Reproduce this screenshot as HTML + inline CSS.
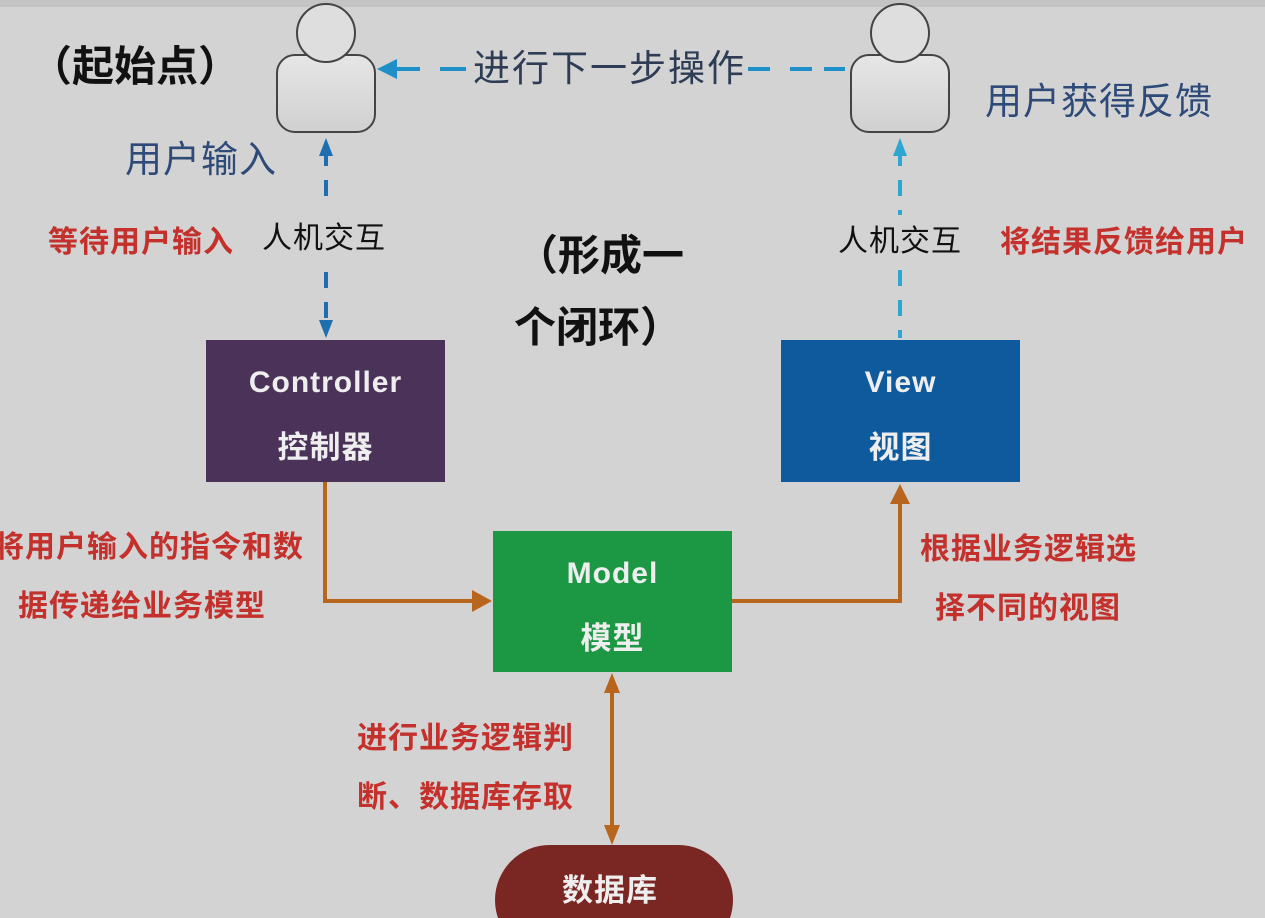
<!DOCTYPE html>
<html><head><meta charset="utf-8"><style>
html,body{margin:0;padding:0}
body{width:1265px;height:918px;background:#d3d3d3;position:relative;overflow:hidden;font-family:"Liberation Sans","Noto Sans CJK SC",sans-serif}
.t{position:absolute;white-space:nowrap;line-height:1}
.red{color:#c4302b;font-weight:bold;font-size:30px;letter-spacing:1px}
.blue{font-size:37px;letter-spacing:1px;color:#2d4a78}
.hj{font-size:30px;letter-spacing:1px;color:#111}
.box{position:absolute;color:#eee;text-align:center;font-weight:bold}
.box .e{font-size:30px;letter-spacing:1px}
.box .c{font-size:31px;letter-spacing:1px}
</style></head><body>
<div style="position:absolute;left:0;top:0;width:1265px;height:7px;background:#c4c4c4"></div>
<svg width="1265" height="918" style="position:absolute;left:0;top:0">
<defs>
<linearGradient id="g" x1="0" y1="0" x2="0" y2="1"><stop offset="0" stop-color="#e6e6e6"/><stop offset="1" stop-color="#d0d0d0"/></linearGradient>
</defs>
<rect x="277" y="55" width="98" height="77" rx="18" fill="url(#g)" stroke="#444" stroke-width="2"/>
<circle cx="326" cy="33" r="29" fill="#dedede" stroke="#444" stroke-width="2"/>
<rect x="851" y="55" width="98" height="77" rx="18" fill="url(#g)" stroke="#444" stroke-width="2"/>
<circle cx="900" cy="33" r="29" fill="#dedede" stroke="#444" stroke-width="2"/>
<line x1="395" y1="69" x2="420" y2="69" stroke="#1f8fc8" stroke-width="4"/>
<line x1="440" y1="69" x2="466" y2="69" stroke="#1f8fc8" stroke-width="4"/>
<line x1="748" y1="69" x2="770" y2="69" stroke="#1f8fc8" stroke-width="4"/>
<line x1="790" y1="69" x2="845" y2="69" stroke="#1f8fc8" stroke-width="4" stroke-dasharray="22,12"/>
<polygon points="377,69 397,59 397,79" fill="#1f8fc8"/>
<line x1="326" y1="150" x2="326" y2="205" stroke="#1f6fb0" stroke-width="4" stroke-dasharray="16,14"/>
<line x1="326" y1="272" x2="326" y2="325" stroke="#1f6fb0" stroke-width="4" stroke-dasharray="16,14"/>
<polygon points="326,138 319,156 333,156" fill="#1f6fb0"/>
<polygon points="326,338 319,320 333,320" fill="#1f6fb0"/>
<line x1="900" y1="150" x2="900" y2="215" stroke="#2ea7d0" stroke-width="4" stroke-dasharray="16,14"/>
<line x1="900" y1="270" x2="900" y2="338" stroke="#2ea7d0" stroke-width="4" stroke-dasharray="16,14"/>
<polygon points="900,138 893,156 907,156" fill="#2ea7d0"/>
<polyline points="325,482 325,601 475,601" fill="none" stroke="#b8661e" stroke-width="4"/>
<polygon points="492,601 472,590 472,612" fill="#b8661e"/>
<polyline points="732,601 900,601 900,500" fill="none" stroke="#b8661e" stroke-width="4"/>
<polygon points="900,484 890,504 910,504" fill="#b8661e"/>
<line x1="612" y1="690" x2="612" y2="828" stroke="#b8661e" stroke-width="4"/>
<polygon points="612,673 604,693 620,693" fill="#b8661e"/>
<polygon points="612,845 604,825 620,825" fill="#b8661e"/>
<rect x="495" y="845" width="238" height="110" rx="55" fill="#7a2622"/>
</svg>
<div class="t" style="left:30px;top:46px;font-size:42px;font-weight:bold;color:#111">（起始点）</div>
<div class="t" style="left:473px;top:50px;font-size:37px;letter-spacing:2px;color:#2e3d55">进行下一步操作</div>
<div class="t blue" style="left:125px;top:141px">用户输入</div>
<div class="t blue" style="left:985px;top:83px">用户获得反馈</div>
<div class="t hj" style="left:262px;top:224px">人机交互</div>
<div class="t red" style="left:48px;top:228px">等待用户输入</div>
<div class="t hj" style="left:838px;top:227px">人机交互</div>
<div class="t red" style="left:1000px;top:228px">将结果反馈给用户</div>
<div class="t" style="left:516px;top:235px;font-size:42px;font-weight:bold;color:#111">（形成一</div>
<div class="t" style="left:514px;top:307px;font-size:42px;font-weight:bold;color:#111">个闭环）</div>
<div class="box" style="left:206px;top:340px;width:239px;height:142px;background:#4a3259"><div class="e" style="margin-top:26px">Controller</div><div class="c" style="margin-top:22px">控制器</div></div>
<div class="box" style="left:781px;top:340px;width:239px;height:142px;background:#0f5a9c"><div class="e" style="margin-top:26px">View</div><div class="c" style="margin-top:22px">视图</div></div>
<div class="box" style="left:493px;top:531px;width:239px;height:141px;background:#1c9845"><div class="e" style="margin-top:26px">Model</div><div class="c" style="margin-top:22px">模型</div></div>
<div class="t red" style="left:-6px;top:533px">将用户输入的指令和数</div>
<div class="t red" style="left:18px;top:592px">据传递给业务模型</div>
<div class="t red" style="left:920px;top:535px">根据业务逻辑选</div>
<div class="t red" style="left:935px;top:594px">择不同的视图</div>
<div class="t red" style="left:357px;top:724px">进行业务逻辑判</div>
<div class="t red" style="left:357px;top:783px">断、数据库存取</div>
<div class="t" style="left:562px;top:875px;font-size:31px;font-weight:bold;letter-spacing:1px;color:#eee">数据库</div>
</body></html>
